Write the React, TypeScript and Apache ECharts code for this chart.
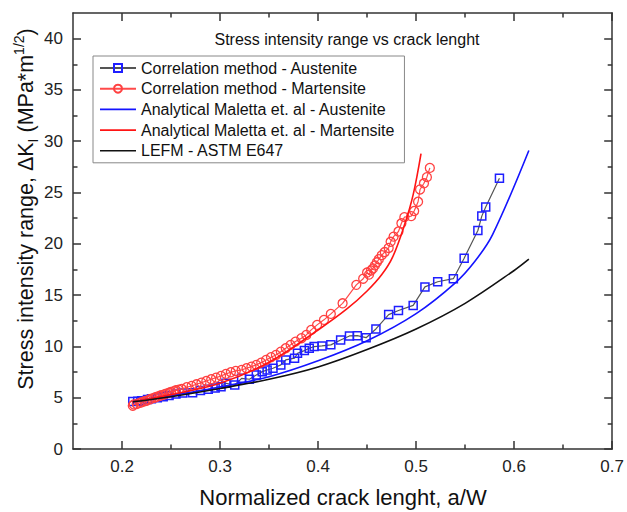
import React, { useEffect, useRef } from "react";
import * as echarts from "echarts";

const FONT = "'Liberation Sans', Arial, Helvetica, sans-serif";

const seriesNames = [
  "Correlation method - Austenite",
  "Correlation method - Martensite",
  "Analytical Maletta et. al - Austenite",
  "Analytical Maletta et. al - Martensite",
  "LEFM - ASTM E647",
];

const xMajor = [0.2, 0.3, 0.4, 0.5, 0.6, 0.7];
const xMinor = [0.25, 0.35, 0.45, 0.55, 0.65];
const yMajor = [0, 5, 10, 15, 20, 25, 30, 35, 40];
const yMinor = [2.5, 7.5, 12.5, 17.5, 22.5, 27.5, 32.5, 37.5];

const corrAustenite: number[][] = [
  [0.211, 4.62], [0.216, 4.66], [0.22, 4.71], [0.226, 4.82], [0.23, 4.91],
  [0.236, 5.0], [0.242, 5.1], [0.248, 5.22], [0.255, 5.37], [0.262, 5.46],
  [0.272, 5.49], [0.28, 5.7], [0.288, 5.82], [0.295, 5.95], [0.301, 6.08],
  [0.306, 6.41], [0.315, 6.24], [0.322, 6.89], [0.33, 6.8], [0.337, 7.22],
  [0.343, 7.54], [0.348, 7.7], [0.354, 7.87], [0.362, 8.2], [0.367, 8.68],
  [0.376, 8.85], [0.379, 9.33], [0.386, 9.59], [0.391, 9.82], [0.396, 9.98],
  [0.404, 10.05], [0.413, 10.15], [0.423, 10.63], [0.432, 11.02], [0.44, 11.05],
  [0.449, 10.85], [0.459, 11.7], [0.472, 13.1], [0.482, 13.5], [0.497, 14.0],
  [0.509, 15.8], [0.522, 16.3], [0.538, 16.6], [0.549, 18.6], [0.563, 21.3],
  [0.567, 22.7], [0.571, 23.6], [0.585, 26.4],
];

const corrMartensite: number[][] = [
  [0.211, 4.22], [0.212, 4.35], [0.215, 4.39], [0.218, 4.5], [0.22, 4.55],
  [0.223, 4.65], [0.225, 4.71], [0.228, 4.82], [0.23, 4.91], [0.233, 5.0],
  [0.235, 5.07], [0.238, 5.16], [0.24, 5.24], [0.243, 5.32], [0.245, 5.4],
  [0.248, 5.48], [0.25, 5.56], [0.253, 5.64], [0.255, 5.72], [0.258, 5.78],
  [0.261, 5.85], [0.266, 6.02], [0.271, 6.15], [0.276, 6.31], [0.281, 6.47],
  [0.286, 6.63], [0.291, 6.8], [0.296, 6.96], [0.301, 7.12], [0.306, 7.32],
  [0.311, 7.48], [0.316, 7.61], [0.322, 7.71], [0.327, 7.87], [0.332, 8.03],
  [0.337, 8.2], [0.342, 8.42], [0.347, 8.68], [0.352, 8.95], [0.357, 9.17],
  [0.362, 9.49], [0.367, 9.82], [0.372, 10.15], [0.377, 10.47], [0.383, 10.8],
  [0.388, 11.12], [0.393, 11.61], [0.399, 12.1], [0.406, 12.59], [0.413, 13.17],
  [0.425, 14.2], [0.439, 16.0], [0.446, 16.6], [0.45, 17.2], [0.452, 17.0],
  [0.454, 17.4], [0.456, 17.6], [0.458, 17.9], [0.46, 18.2], [0.462, 18.5],
  [0.465, 18.9], [0.468, 19.2], [0.472, 19.6], [0.474, 20.2], [0.477, 20.7],
  [0.482, 21.2], [0.485, 22.0], [0.488, 22.6], [0.495, 22.7], [0.498, 23.2],
  [0.502, 24.1], [0.504, 25.3], [0.508, 25.9], [0.511, 26.5], [0.514, 27.4],
];

const analyticalAustenite: number[][] = [
  [0.211, 4.6], [0.25, 5.2], [0.3, 6.05], [0.35, 7.05], [0.4, 8.6],
  [0.45, 10.55], [0.5, 13.2], [0.54, 16.2], [0.56, 18.3], [0.578, 20.9],
  [0.615, 29.1],
];

const analyticalMartensite: number[][] = [
  [0.211, 4.6], [0.25, 5.3], [0.3, 6.4], [0.35, 8.45], [0.4, 11.6],
  [0.43, 13.7], [0.45, 15.4], [0.465, 17.0], [0.476, 18.7], [0.488, 21.8],
  [0.497, 24.8], [0.505, 28.8],
];

const lefm: number[][] = [
  [0.211, 4.6], [0.25, 5.1], [0.3, 5.9], [0.35, 6.8], [0.4, 8.0],
  [0.45, 9.7], [0.5, 11.7], [0.55, 14.2], [0.6, 17.4], [0.615, 18.5],
];

const AXIS_COLOR = "#333";
const LINE_ICON = "path://M0,0H36V1.6H0Z";

function makeX(position: string, values: number[], len: number, withLine: boolean, withLabels: boolean) {
  return {
    type: "value",
    min: 0.15,
    max: 0.7,
    position,
    splitLine: { show: false },
    axisLine: { show: withLine, onZero: false, lineStyle: { color: AXIS_COLOR, width: 1.5 } },
    axisTick: { show: true, inside: true, length: len, customValues: values, lineStyle: { color: AXIS_COLOR, width: 1.5 } },
    axisLabel: withLabels
      ? {
          show: true,
          customValues: values,
          formatter: (v: number) => v.toFixed(1),
          fontSize: 17,
          color: "#222",
          margin: 9,
          fontFamily: FONT,
        }
      : { show: false },
  };
}

function makeY(position: string, values: number[], len: number, withLine: boolean, withLabels: boolean) {
  return {
    type: "value",
    min: 0,
    max: 42.5,
    position,
    splitLine: { show: false },
    axisLine: { show: withLine, onZero: false, lineStyle: { color: AXIS_COLOR, width: 1.5 } },
    axisTick: { show: true, inside: true, length: len, customValues: values, lineStyle: { color: AXIS_COLOR, width: 1.5 } },
    axisLabel: withLabels
      ? {
          show: true,
          customValues: values,
          formatter: (v: number) => String(Math.round(v)),
          fontSize: 17,
          color: "#222",
          margin: 10,
          fontFamily: FONT,
        }
      : { show: false },
  };
}

export default function App() {
  const ref = useRef<HTMLDivElement>(null);

  useEffect(() => {
    if (!ref.current) return;
    const chart = echarts.init(ref.current, null, { renderer: "svg" });
    const option: any = {
      animation: false,
      backgroundColor: "#fff",
      textStyle: { fontFamily: FONT },
      grid: { left: 73, top: 13, width: 541, height: 436, containLabel: false },
      xAxis: [
        makeX("bottom", xMajor, 8, true, true),
        makeX("bottom", xMinor, 4.5, false, false),
        makeX("top", xMajor, 8, true, false),
        makeX("top", xMinor, 4.5, false, false),
      ],
      yAxis: [
        makeY("left", yMajor, 8, true, true),
        makeY("left", yMinor, 4.5, false, false),
        makeY("right", yMajor, 8, true, false),
        makeY("right", yMinor, 4.5, false, false),
      ],
      legend: {
        orient: "vertical",
        left: 93,
        top: 56,
        padding: [3, 10, 3, 6],
        itemWidth: 36,
        itemHeight: 10,
        itemGap: 2.7,
        symbolKeepAspect: true,
        borderColor: "#888",
        borderWidth: 1,
        backgroundColor: "#fff",
        textStyle: { fontSize: 16, color: "#111", fontFamily: FONT, lineHeight: 18 },
        data: [
          { name: seriesNames[0] },
          { name: seriesNames[1] },
          { name: seriesNames[2], icon: LINE_ICON },
          { name: seriesNames[3], icon: LINE_ICON },
          { name: seriesNames[4], icon: LINE_ICON },
        ],
      },
      graphic: [
        {
          type: "text",
          x: 347,
          y: 39,
          style: {
            text: "Stress intensity range vs crack lenght",
            fontSize: 16,
            fontFamily: FONT,
            fill: "#111",
            align: "center",
            verticalAlign: "middle",
          },
        },
        {
          type: "text",
          x: 343,
          y: 497,
          style: {
            text: "Normalized crack lenght, a/W",
            fontSize: 22,
            fontFamily: FONT,
            fill: "#111",
            align: "center",
            verticalAlign: "middle",
          },
        },
        {
          type: "text",
          x: 26,
          y: 209,
          rotation: Math.PI / 2,
          style: {
            text: "{a|Stress intensity range, ΔK}{s|I}{a| (MPa*m}{p|1/2}{a|)}",
            align: "center",
            verticalAlign: "middle",
            fill: "#111",
            rich: {
              a: { fontSize: 21.5, fontFamily: FONT, fill: "#111", lineHeight: 28 },
              s: { fontSize: 14, fontFamily: FONT, fill: "#111", lineHeight: 14, verticalAlign: "bottom" },
              p: { fontSize: 14, fontFamily: FONT, fill: "#111", lineHeight: 14, verticalAlign: "top" },
            },
          },
        },
      ],
      series: [
        {
          name: seriesNames[0],
          type: "line",
          data: corrAustenite,
          symbol: "rect",
          symbolSize: 8,
          showAllSymbol: true,
          lineStyle: { color: "#555", width: 1.2 },
          itemStyle: { color: "rgba(255,255,255,0)", borderColor: "#1f1fff", borderWidth: 1.5 },
          z: 2,
        },
        {
          name: seriesNames[1],
          type: "line",
          data: corrMartensite,
          symbol: "circle",
          symbolSize: 9,
          showAllSymbol: true,
          lineStyle: { color: "#ff4a4a", width: 1.2 },
          itemStyle: { color: "rgba(255,255,255,0)", borderColor: "#ff4040", borderWidth: 1.3 },
          z: 3,
        },
        {
          name: seriesNames[2],
          type: "line",
          data: analyticalAustenite,
          symbol: "none",
          smooth: 0.35,
          lineStyle: { color: "#1414ff", width: 1.6 },
          itemStyle: { color: "#1414ff" },
          z: 4,
        },
        {
          name: seriesNames[3],
          type: "line",
          data: analyticalMartensite,
          symbol: "none",
          smooth: 0.35,
          lineStyle: { color: "#ff1414", width: 1.6 },
          itemStyle: { color: "#ff1414" },
          z: 4,
        },
        {
          name: seriesNames[4],
          type: "line",
          data: lefm,
          symbol: "none",
          smooth: 0.35,
          lineStyle: { color: "#111", width: 1.6 },
          itemStyle: { color: "#111" },
          z: 5,
        },
      ],
    };
    chart.setOption(option);
    return () => chart.dispose();
  }, []);

  return (
    <div
      ref={ref}
      style={{ position: "absolute", left: 0, top: 0, width: 627, height: 512, background: "#fff" }}
    />
  );
}
